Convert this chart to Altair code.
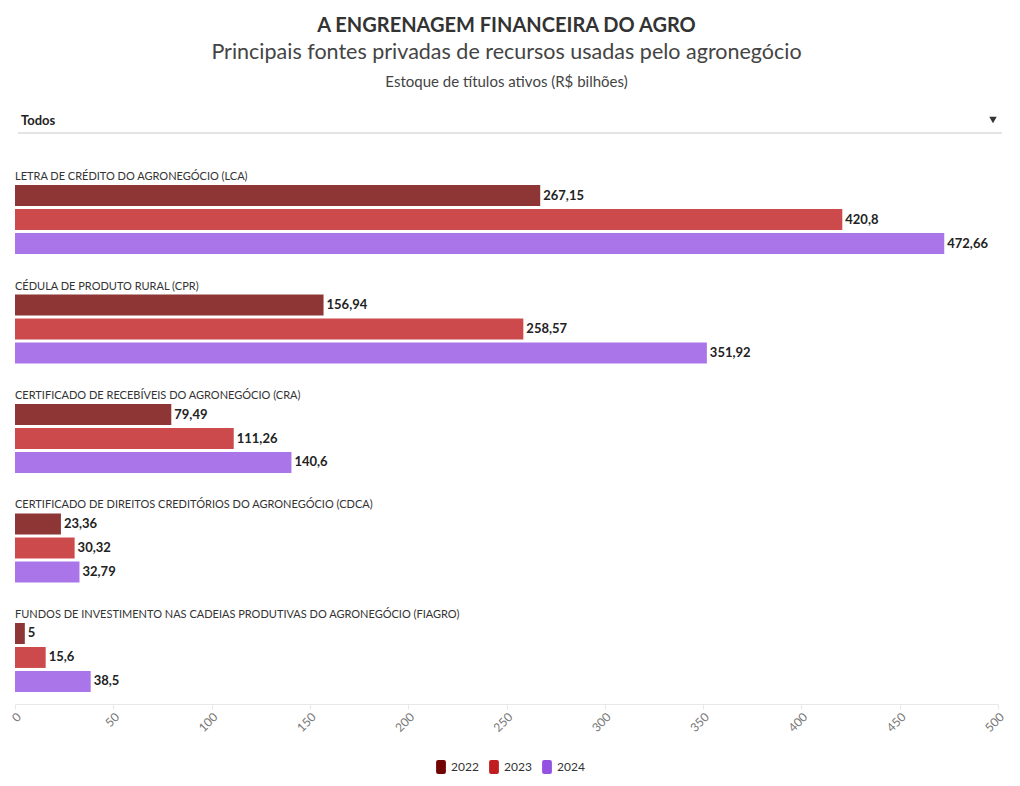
import altair as alt
import pandas as pd

categories = [
    "LETRA DE CRÉDITO DO AGRONEGÓCIO (LCA)",
    "CÉDULA DE PRODUTO RURAL (CPR)",
    "CERTIFICADO DE RECEBÍVEIS DO AGRONEGÓCIO (CRA)",
    "CERTIFICADO DE DIREITOS CREDITÓRIOS DO AGRONEGÓCIO (CDCA)",
    "FUNDOS DE INVESTIMENTO NAS CADEIAS PRODUTIVAS DO AGRONEGÓCIO (FIAGRO)",
]
years = ["2022", "2023", "2024"]
v2022 = [267.15, 156.94, 79.49, 23.36, 5]
v2023 = [420.8, 258.57, 111.26, 30.32, 15.6]
v2024 = [472.66, 351.92, 140.6, 32.79, 38.5]
colors = ["#720404", "#bf1d1f", "#9352e2"]
x_ticks = list(range(0, 501, 50))

title = "A ENGRENAGEM FINANCEIRA DO AGRO"
subtitle = "Principais fontes privadas de recursos usadas pelo agronegócio"
subtitle2 = "Estoque de títulos ativos (R$ bilhões)"
dropdown = "Todos"

FONT = "Lato"

rows = []
for yr, vals in zip(years, [v2022, v2023, v2024]):
    for c, v in zip(categories, vals):
        rows.append({"cat": c, "year": yr, "value": v,
                     "label": f"{v:g}".replace(".", ",")})
df = pd.DataFrame(rows)
cat_df = pd.DataFrame({"cat": categories})

yscale = alt.Scale(domain=categories, paddingInner=0.37, paddingOuter=0.11)
yoff = alt.YOffset("year:N", scale=alt.Scale(domain=years, paddingInner=0.125, paddingOuter=0))
xscale = alt.Scale(domain=[0, 500], nice=False)

base = alt.Chart(df)

bars = base.mark_bar(opacity=0.8, cornerRadius=0).encode(
    x=alt.X("value:Q", scale=xscale, title=None,
            axis=alt.Axis(values=x_ticks, labelAngle=-45, grid=False,
                          domainColor="#e8e8e8", tickColor="#e8e8e8", tickSize=5,
                          labelColor="#777", labelFontSize=12, labelFont=FONT,
                          labelPadding=2)),
    y=alt.Y("cat:N", scale=yscale, axis=None, title=None),
    yOffset=yoff,
    color=alt.Color("year:N", scale=alt.Scale(domain=years, range=colors),
                    legend=alt.Legend(orient="none", legendX=419, legendY=587,
                                      direction="horizontal", title=None,
                                      symbolType="M-0.4,-1 H0.4 Q0.7,-1 0.7,-0.7 V0.7 Q0.7,1 0.4,1 H-0.4 Q-0.7,1 -0.7,0.7 V-0.7 Q-0.7,-1 -0.4,-1 Z",
                                      symbolSize=196, symbolOpacity=1, symbolStrokeWidth=0,
                                      labelFont=FONT, labelFontSize=12, labelColor="#333",
                                      columnPadding=8, labelOffset=3)),
)

values = base.mark_text(align="left", baseline="middle", dx=3, font=FONT,
                        fontSize=13, fontWeight="bold", color="#222").encode(
    x=alt.X("value:Q", scale=xscale),
    y=alt.Y("cat:N", scale=yscale, axis=None),
    yOffset=yoff,
    text="label:N",
)

cat_labels = alt.Chart(cat_df).mark_text(align="left", baseline="alphabetic", dy=-5,
                                         font=FONT, fontSize=11, color="#333").encode(
    x=alt.value(0),
    y=alt.Y("cat:N", scale=yscale, axis=None, bandPosition=0),
    text="cat:N",
)

one = pd.DataFrame({"k": [0]})

def head(txt, y, size, weight="normal", color="#333", x=491.5, align="center"):
    return alt.Chart(one).mark_text(align=align, baseline="middle", font=FONT,
                                    fontSize=size, fontWeight=weight, color=color).encode(
        x=alt.value(x), y=alt.value(y), text=alt.value(txt))

h1 = head(title, -147, 20, "bold", "#333")
h2 = head(subtitle, -120, 21.5, "normal", "#444")
h3 = head(subtitle2, -91, 15, "normal", "#444")
h4 = head(dropdown, -52, 13, "bold", "#222", x=6, align="left")
rule = alt.Chart(one).mark_rule(color="#c8c8c8", strokeWidth=1).encode(
    x=alt.value(3), x2=alt.value(987), y=alt.value(-40))
tri = alt.Chart(one).mark_point(shape="triangle-down", filled=True, size=55,
                                color="#333", opacity=1).encode(
    x=alt.value(978), y=alt.value(-53))

chart = alt.layer(bars, values, cat_labels, h1, h2, h3, h4, rule, tri).properties(
    width=983, height=531,
    autosize=alt.AutoSizeParams(type="none"),
    padding={"left": 7, "top": 165, "right": 12, "bottom": 70},
).configure(font=FONT, view=alt.ViewConfig(stroke="transparent"))

chart.save("out.html", embed_options={"renderer": "svg", "actions": False})
